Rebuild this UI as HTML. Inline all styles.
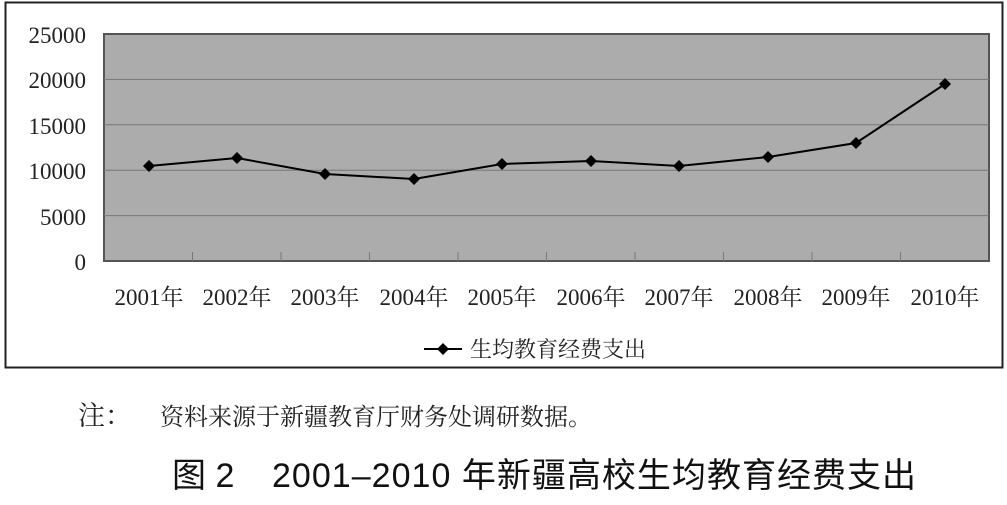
<!DOCTYPE html>
<html><head><meta charset="utf-8"><style>
body{margin:0;background:#fff;width:1007px;height:505px;overflow:hidden;}
svg{display:block}
</style></head><body>
<svg width="1007" height="505" xmlns="http://www.w3.org/2000/svg">
<rect x="5.5" y="2.5" width="997" height="365" fill="#fff" stroke="#222" stroke-width="2"/>
<rect x="104" y="34" width="885" height="227" fill="#acacac" stroke="#555" stroke-width="2"/>
<g stroke="#777" stroke-width="1">
<line x1="104" y1="79.4" x2="989" y2="79.4"/>
<line x1="104" y1="124.8" x2="989" y2="124.8"/>
<line x1="104" y1="170.2" x2="989" y2="170.2"/>
<line x1="104" y1="215.6" x2="989" y2="215.6"/>
</g>
<g stroke="#777" stroke-width="1">
<line x1="192.5" y1="252" x2="192.5" y2="261"/><line x1="281" y1="252" x2="281" y2="261"/>
<line x1="369.5" y1="252" x2="369.5" y2="261"/><line x1="458" y1="252" x2="458" y2="261"/>
<line x1="546.5" y1="252" x2="546.5" y2="261"/><line x1="635" y1="252" x2="635" y2="261"/>
<line x1="723.5" y1="252" x2="723.5" y2="261"/><line x1="812" y1="252" x2="812" y2="261"/>
<line x1="900.5" y1="252" x2="900.5" y2="261"/>
</g>
<g font-family="Liberation Serif, Noto Serif CJK SC, serif" font-size="23" fill="#222" text-anchor="end">
<text x="86" y="43">25000</text><text x="86" y="88">20000</text><text x="86" y="134">15000</text>
<text x="86" y="179">10000</text><text x="86" y="225">5000</text><text x="86" y="270">0</text>
</g>
<g font-family="Liberation Serif, Noto Serif CJK SC, serif" font-size="23" fill="#222" text-anchor="middle">
<text x="149" y="305">2001年</text><text x="237" y="305">2002年</text><text x="325" y="305">2003年</text>
<text x="414" y="305">2004年</text><text x="502" y="305">2005年</text><text x="591" y="305">2006年</text>
<text x="679" y="305">2007年</text><text x="768" y="305">2008年</text><text x="856" y="305">2009年</text>
<text x="945" y="305">2010年</text>
</g>
<polyline fill="none" stroke="#000" stroke-width="2" points="149,166 237,158 325,174 414,179 502,164 591,161 679,166 768,157 856,143 945,84"/>
<g fill="#000">
<path d="M149 160l6 6-6 6-6-6z"/><path d="M237 152l6 6-6 6-6-6z"/><path d="M325 168l6 6-6 6-6-6z"/>
<path d="M414 173l6 6-6 6-6-6z"/><path d="M502 158l6 6-6 6-6-6z"/><path d="M591 155l6 6-6 6-6-6z"/>
<path d="M679 160l6 6-6 6-6-6z"/><path d="M768 151l6 6-6 6-6-6z"/><path d="M856 137l6 6-6 6-6-6z"/>
<path d="M945 78l6 6-6 6-6-6z"/>
</g>
<line x1="424" y1="349" x2="462" y2="349" stroke="#000" stroke-width="2"/>
<path d="M443 343l6 6-6 6-6-6z" fill="#000"/>
<text x="470" y="357" font-family="Liberation Serif, Noto Serif CJK SC, serif" font-size="22" fill="#222">生均教育经费支出</text>
<text x="78" y="425" font-family="Liberation Serif, Noto Serif CJK SC, serif" font-size="27" fill="#222">注：</text>
<text x="160" y="425" font-family="Liberation Serif, Noto Serif CJK SC, serif" font-size="24" fill="#222">资料来源于新疆教育厅财务处调研数据。</text>
<text x="172" y="487" font-family="Liberation Sans, Noto Sans CJK SC, sans-serif" font-size="34" fill="#111">图 2</text>
<text x="272" y="487" font-family="Liberation Sans, Noto Sans CJK SC, sans-serif" font-size="34" fill="#111" textLength="644">2001–2010 年新疆高校生均教育经费支出</text>
</svg>
</body></html>
